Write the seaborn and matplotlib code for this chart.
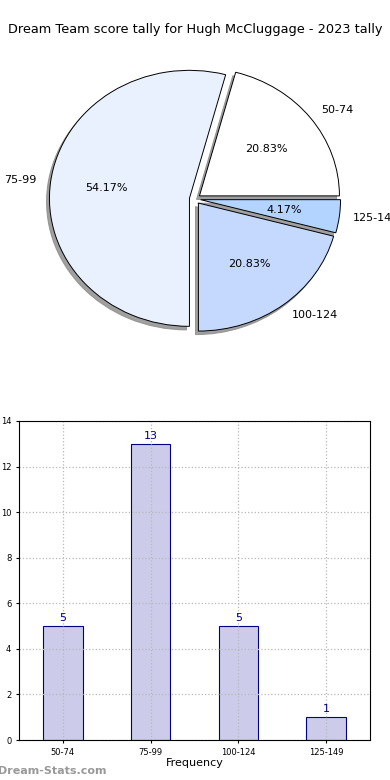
import numpy as np
import pandas as pd
import seaborn as sns
import matplotlib.pyplot as plt

# data
intervals = ["50-74", "75-99", "100-124", "125-149"]
counts = [5, 13, 5, 1]
pie_colors = ["#ffffff", "#eaf1fe", "#c5d8fe", "#b3d4fe"]
bar_color = "#ccccea"

df = pd.DataFrame({"interval": intervals, "count": counts})

fig = plt.figure(figsize=(3.9, 7.8), dpi=100)

# Pie chart (stretched: wider than tall, like the original)
ax1 = fig.add_axes([0, 430 / 780, 1, 300 / 780])
rx, ry = 140.0, 128.0
ax1.pie(counts, labels=intervals, colors=pie_colors, autopct="%.2f%%",
        startangle=0, explode=[0.04] * 4,
        shadow=dict(ox=-0.015, oy=-0.02, color="#888888", alpha=0.8),
        wedgeprops=dict(edgecolor="black", linewidth=0.7),
        textprops=dict(fontsize=8))
ax1.set_xlim(-195 / rx, 195 / rx)
ax1.set_ylim(-151 / ry, 149 / ry)
ax1.set_aspect("auto")
ax1.axis("off")

fig.text(0.5, 1 - 30 / 780, "Dream Team score tally for Hugh McCluggage - 2023 tally",
         ha="center", va="center", fontsize=9.3)

# Bar chart
ax2 = fig.add_axes([19 / 390, 40 / 780, 351 / 390, 319 / 780])
sns.barplot(data=df, x="interval", y="count", color=bar_color, width=0.45,
            edgecolor="navy", linewidth=0.8, saturation=1, ax=ax2, zorder=2)
ax2.set_xlim(-0.5, 3.5)
ax2.set_ylim(0, 14)
ax2.set_yticks(range(0, 15, 2))
ax2.grid(True, color="#b8b8b8", linestyle=":", linewidth=0.9, zorder=3)
ax2.set_axisbelow(False)
ax2.tick_params(labelsize=6, length=2)
for i, c in enumerate(counts):
    ax2.text(i, c + 0.12, str(c), ha="center", va="bottom", color="navy", fontsize=8)
ax2.set_xlabel("Frequency", fontsize=8, labelpad=1)
ax2.set_ylabel("Score Interval", fontsize=8, labelpad=2)
for s in ax2.spines.values():
    s.set_linewidth(0.8)
    s.set_zorder(5)

fig.text(-0.005, 1 - 771 / 780, "Dream-Stats.com", ha="left", va="center",
         fontsize=8, color="#999999", fontweight="bold")

fig.savefig("out.png", dpi=100)
